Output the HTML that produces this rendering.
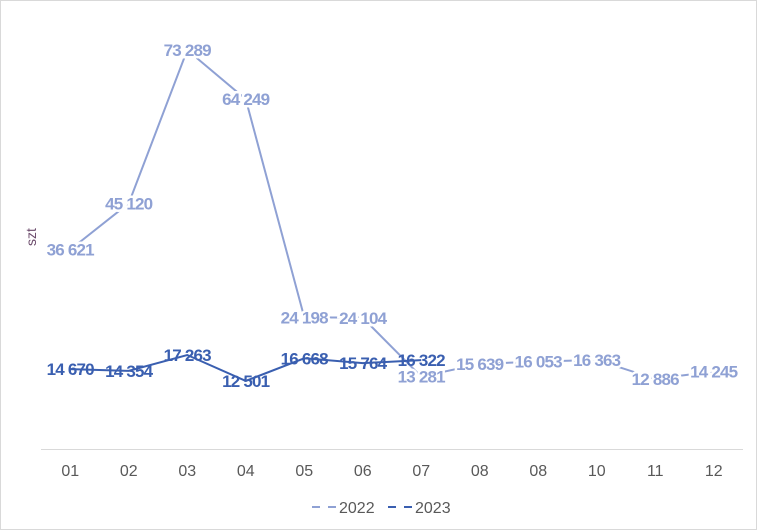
<!DOCTYPE html>
<html><head><meta charset="utf-8"><style>
body{margin:0;background:#fff;}
svg{display:block;font-family:"Liberation Sans",Arial,sans-serif;}
</style></head><body>
<svg width="757" height="530">
<rect x="0.5" y="0.5" width="756" height="529" fill="#fff" stroke="#d9d9d9"/>
<text x="36" y="237" transform="rotate(-90 36 237)" text-anchor="middle" font-size="14" fill="#6b4a6b">szt</text>
<line x1="41" y1="449.5" x2="743" y2="449.5" stroke="#d9d9d9"/>
<g id="xticks"></g>
<g id="series"></g>
<g>
<g>
<line x1="312" y1="507" x2="338" y2="507" stroke="#8fa1d4" stroke-width="2" stroke-dasharray="8,8"/>
<text x="339" y="513" font-size="16" fill="#595959">2022</text></g>
<g>
<line x1="388" y1="507" x2="414" y2="507" stroke="#3a5fb0" stroke-width="2" stroke-dasharray="8,8"/>
<text x="415" y="513" font-size="16" fill="#595959">2023</text></g>
</g>
</svg>
<script>
const categories=["01","02","03","04","05","06","07","08","08","10","11","12"];
const values2022=[36621,45120,73289,64249,24198,24104,13281,15639,16053,16363,12886,14245];
const values2023=[14670,14354,17263,12501,16668,15764,16322];
const labels2022=["36 621","45 120","73 289","64 249","24 198","24 104","13 281","15 639","16 053","16 363","12 886","14 245"];
const labels2023=["14 670","14 354","17 263","12 501","16 668","15 764","16 322"];
const NS="http://www.w3.org/2000/svg";
const left=41,right=743,y0=449,yTop=50,vTop=73289;
const band=(right-left)/categories.length;
const xs=i=>left+band*(i+0.5);
const ys=v=>y0-v/vTop*(y0-yTop);
const xt=document.getElementById('xticks');
categories.forEach((c,i)=>{const t=document.createElementNS(NS,'text');
t.setAttribute('x',xs(i));t.setAttribute('y',476);t.setAttribute('text-anchor','middle');
t.setAttribute('font-size','16');t.setAttribute('fill','#595959');t.textContent=c;


xt.appendChild(t);});
const sg=document.getElementById('series');
function draw(vals,labs,color,halo,name){
 const p=document.createElementNS(NS,'polyline');
 p.setAttribute('points',vals.map((v,i)=>xs(i)+','+ys(v)).join(' '));
 p.setAttribute('fill','none');p.setAttribute('stroke',color);p.setAttribute('stroke-width','2');
 
 
 sg.appendChild(p);
 vals.forEach((v,i)=>{const t=document.createElementNS(NS,'text');
  t.setAttribute('x',xs(i));t.setAttribute('y',ys(v)+6);t.setAttribute('text-anchor','middle');
  t.setAttribute('font-size','17');t.setAttribute('font-weight','bold');t.setAttribute('fill',color);
  t.setAttribute('letter-spacing','-0.8');
  if(halo){t.setAttribute('stroke','#fff');t.setAttribute('stroke-width','5');t.setAttribute('paint-order','stroke');}
  t.textContent=labs[i];
  
  
  sg.appendChild(t);});
}
draw(values2022,labels2022,'#8fa1d4',true,'series-2022');
draw(values2023,labels2023,'#3a5fb0',false,'series-2023');
</script>
</body></html>
